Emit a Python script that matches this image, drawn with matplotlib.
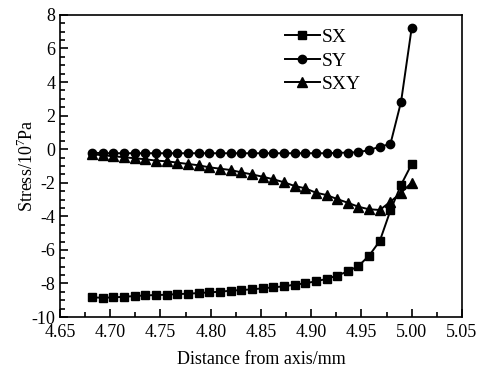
import matplotlib
matplotlib.use('Agg')
from matplotlib import pyplot as plt
from matplotlib.ticker import MultipleLocator, FormatStrFormatter

plt.rcParams['font.family'] = ['Liberation Serif', 'DejaVu Serif']
plt.rcParams['axes.unicode_minus'] = False
plt.rcParams['mathtext.fontset'] = 'custom'
plt.rcParams['mathtext.rm'] = 'Liberation Serif'

# distance from axis (mm)
x = [4.682, 4.6926, 4.7032, 4.7138, 4.7244, 4.735, 4.7456, 4.7562, 4.7668, 4.7774,
     4.788, 4.7986, 4.8092, 4.8198, 4.8304, 4.841, 4.8516, 4.8622, 4.8728, 4.8834,
     4.894, 4.9046, 4.9152, 4.9258, 4.9364, 4.947, 4.9576, 4.9682, 4.9788, 4.9894, 5.0]

sx = [-8.83, -8.85, -8.83, -8.79, -8.75, -8.71, -8.69, -8.67, -8.63, -8.61,
      -8.57, -8.53, -8.49, -8.43, -8.39, -8.35, -8.29, -8.23, -8.17, -8.07,
      -7.99, -7.87, -7.73, -7.53, -7.28, -6.96, -6.34, -5.47, -3.65, -2.12, -0.88]

sy = [-0.2, -0.24, -0.24, -0.24, -0.24, -0.24, -0.24, -0.24, -0.24, -0.24,
      -0.24, -0.24, -0.24, -0.24, -0.24, -0.24, -0.24, -0.24, -0.24, -0.24,
      -0.24, -0.24, -0.24, -0.22, -0.2, -0.18, -0.05, 0.15, 0.31, 2.83, 7.25]

sxy = [-0.3, -0.36, -0.42, -0.48, -0.54, -0.6, -0.68, -0.72, -0.8, -0.88,
       -0.96, -1.08, -1.16, -1.24, -1.38, -1.5, -1.64, -1.79, -1.97, -2.19,
       -2.33, -2.59, -2.73, -2.97, -3.19, -3.43, -3.58, -3.62, -3.13, -2.59, -1.99]

fig = plt.figure(figsize=(4.78, 3.73), dpi=100)
ax = fig.add_axes([0.1255, 0.150, 0.841, 0.810])

ax.plot(x, sx, color='black', lw=1.4, marker='s', ms=5.5, label='SX')
ax.plot(x, sy, color='black', lw=1.4, marker='o', ms=6, label='SY')
ax.plot(x, sxy, color='black', lw=1.4, marker='^', ms=6.5, label='SXY')

ax.set_xlim(4.65, 5.05)
ax.set_ylim(-10, 8)
ax.xaxis.set_major_locator(MultipleLocator(0.05))
ax.xaxis.set_minor_locator(MultipleLocator(0.025))
ax.xaxis.set_major_formatter(FormatStrFormatter('%.2f'))
ax.yaxis.set_major_locator(MultipleLocator(2))
ax.yaxis.set_minor_locator(MultipleLocator(0.5))
ax.tick_params(which='both', direction='in', labelsize=13, width=1.2)
ax.tick_params(which='major', length=6)
ax.tick_params(axis='x', pad=5)
ax.tick_params(which='minor', length=3.5)
for s in ax.spines.values():
    s.set_linewidth(1.2)

ax.set_xlabel('Distance from axis/mm', fontsize=13, labelpad=7)
ax.set_ylabel('Stress/10$^7$Pa', fontsize=13, labelpad=-4)

ax.legend(loc='upper left', bbox_to_anchor=(0.525, 1.0), frameon=False, fontsize=14,
          handlelength=1.8, handletextpad=0.1, labelspacing=0.3, borderaxespad=0.3)

fig.savefig('out.png', dpi=100)
